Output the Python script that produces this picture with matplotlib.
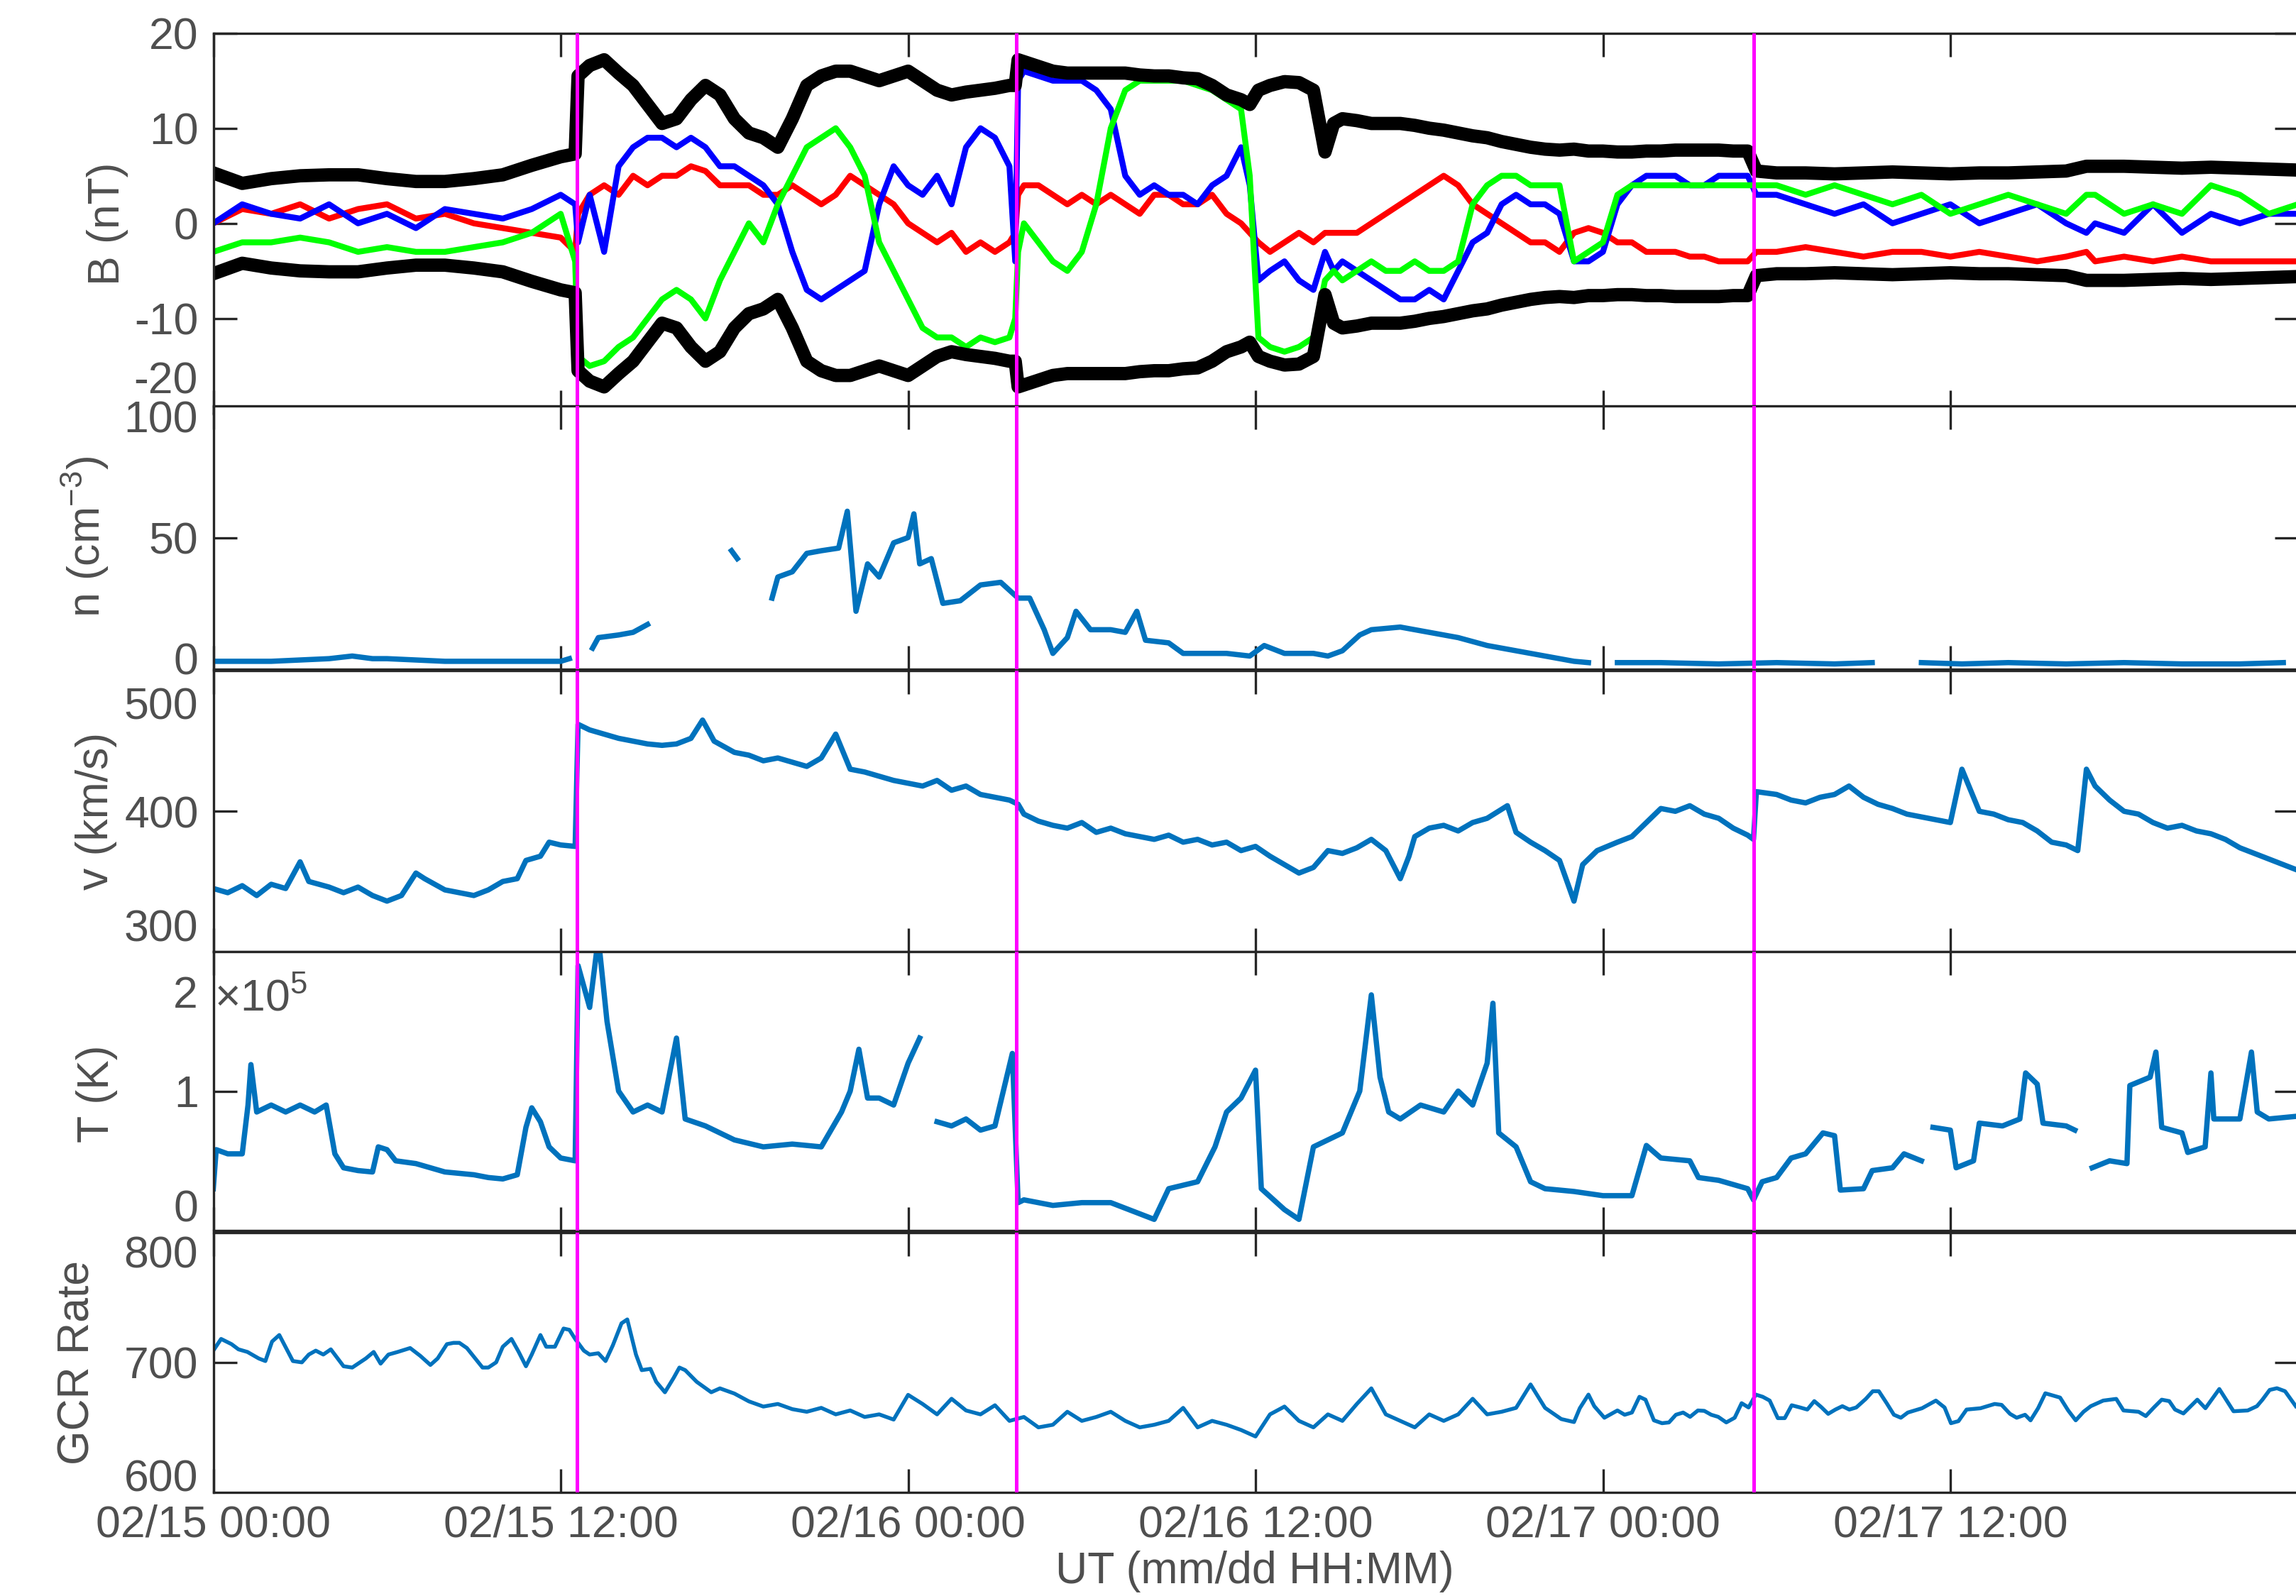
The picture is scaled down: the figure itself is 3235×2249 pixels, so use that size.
import numpy as np
import matplotlib.pyplot as plt

plt.rcParams['font.family'] = ['Liberation Sans', 'DejaVu Sans']
plt.rcParams['mathtext.fontset'] = 'custom'
plt.rcParams['mathtext.rm'] = 'Liberation Sans'
plt.rcParams['mathtext.it'] = 'Liberation Sans:italic'
plt.rcParams['axes.unicode_minus'] = False

nan = np.nan

# ---- data (hours after 02/15 00:00 UT) ----
b_t = [0, 1, 2, 3, 4, 5, 6, 7, 8, 9, 10, 11, 12, 12.5,
       12.6, 13, 13.5, 14, 14.5, 15, 15.5, 16, 16.5, 17, 17.5, 18, 18.5, 19, 19.5, 20, 20.5, 21, 21.5,
       22, 22.5, 23, 23.5, 24, 24.5, 25, 25.5, 26, 26.5, 27, 27.5, 27.7,
       27.8, 28, 28.5, 29, 29.5, 30, 30.5, 31, 31.5, 32, 32.5, 33, 33.5, 34, 34.5, 35, 35.5, 35.8,
       36.1, 36.5, 37, 37.5, 38, 38.4, 38.7, 39, 39.5, 40, 40.5, 41, 41.5, 42, 42.5, 43, 43.5, 44, 44.5,
       45, 45.5, 46, 46.5, 47, 47.5, 48, 48.5, 49, 49.5, 50, 50.5, 51, 51.5, 52, 52.5, 53,
       53.3, 54, 55, 56, 57, 58, 59, 60, 61, 62, 63, 64, 64.7, 65, 66, 67, 68, 69, 70, 71, 72]
b_mag = [5.3, 4.2, 4.7, 5.0, 5.1, 5.1, 4.7, 4.4, 4.4, 4.7, 5.1, 6.1, 7.0, 7.3,
         15.5, 16.6, 17.2, 15.8, 14.5, 12.5, 10.5, 11, 13, 14.5, 13.5, 11, 9.5, 9, 8, 11, 14.5, 15.5, 16,
         16, 15.5, 15, 15.5, 16, 15, 14, 13.5, 13.8, 14, 14.2, 14.5, 14.5,
         17.2, 17, 16.5, 16, 15.8, 15.8, 15.8, 15.8, 15.8, 15.6, 15.5, 15.5, 15.3, 15.2, 14.5, 13.5, 13, 12.5,
         14, 14.5, 14.9, 14.8, 14, 7.5, 10.5, 11, 10.8, 10.5, 10.5, 10.5, 10.3, 10, 9.8, 9.5, 9.2, 9, 8.6,
         8.3, 8, 7.8, 7.7, 7.8, 7.6, 7.6, 7.5, 7.5, 7.6, 7.6, 7.7, 7.7, 7.7, 7.7, 7.6, 7.6,
         5.5, 5.3, 5.3, 5.2, 5.3, 5.4, 5.3, 5.2, 5.3, 5.3, 5.4, 5.5, 6.0, 6.0, 6.0, 5.9, 5.8, 5.9, 5.8, 5.7, 5.6]
b_x = [0, 1.5, 1, 2, 0.5, 1.5, 2, 0.5, 1, 0, -0.5, -1, -1.5, -3,
       1, 3, 4, 3, 5, 4, 5, 5, 6, 5.5, 4, 4, 4, 3, 3, 4, 3, 2, 3,
       5, 4, 3, 2, 0, -1, -2, -1, -3, -2, -3, -2, -1,
       3, 4, 4, 3, 2, 3, 2, 3, 2, 1, 3, 3, 2, 2, 3, 1, 0, -1,
       -2, -3, -2, -1, -2, -1, -1, -1, -1, 0, 1, 2, 3, 4, 5, 4, 2, 1, 0,
       -1, -2, -2, -3, -1, -0.5, -1, -2, -2, -3, -3, -3, -3.5, -3.5, -4, -4, -4,
       -3, -3, -2.5, -3, -3.5, -3, -3, -3.5, -3, -3.5, -4, -3.5, -3, -4, -3.5, -4, -3.5, -4, -4, -4, -4]
b_y = [0, 2, 1, 0.5, 2, 0, 1, -0.5, 1.5, 1, 0.5, 1.5, 3, 2,
       -2, 3, -3, 6, 8, 9, 9, 8, 9, 8, 6, 6, 5, 4, 2, -3, -7, -8, -7,
       -6, -5, 2, 6, 4, 3, 5, 2, 8, 10, 9, 6, -4,
       15, 16, 15.5, 15, 15, 15, 14, 12, 5, 3, 4, 3, 3, 2, 4, 5, 8, 4,
       -6, -5, -4, -6, -7, -3, -5, -4, -5, -6, -7, -8, -8, -7, -8, -5, -2, -1, 2,
       3, 2, 2, 1, -4, -4, -3, 2, 4, 5, 5, 5, 4, 4, 5, 5, 5,
       3, 3, 2, 1, 2, 0, 1, 2, 0, 1, 2, 0, -1, 0, -1, 2, -1, 1, 0, 1, 1]
b_z = [-3, -2, -2, -1.5, -2, -3, -2.5, -3, -3, -2.5, -2, -1, 1, -4,
       -14, -15, -14.5, -13, -12, -10, -8, -7, -8, -10, -6, -3, 0, -2, 2, 5, 8, 9, 10,
       8, 5, -2, -5, -8, -11, -12, -12, -13, -12, -12.5, -12, -10,
       -3, 0, -2, -4, -5, -3, 2, 10, 14, 15, 15, 15, 15, 14.5, 14, 13, 12, 5,
       -12, -13, -13.5, -13, -12, -6, -5, -6, -5, -4, -5, -5, -4, -5, -5, -4, 2, 4, 5,
       5, 4, 4, 4, -4, -3, -2, 3, 4, 4, 4, 4, 4, 4, 4, 4, 4,
       4, 4, 3, 4, 3, 2, 3, 1, 2, 3, 2, 1, 3, 3, 1, 2, 1, 4, 3, 1, 2]

n_t = [0, 1, 2, 3, 4, 4.8, 5.5, 6, 7, 8, 9, 10, 11, 12, 12.3, 12.5, 13.1, 13.3, 14, 14.5, 15, 15.5,
       17.9, 18.1, 18.5, 19.3, 19.5, 20, 20.5, 21, 21.6, 21.9, 22.2, 22.6, 23, 23.5, 24, 24.2, 24.4, 24.8,
       25.2, 25.8, 26.5, 27.2, 27.8, 28.2, 28.7, 29, 29.5, 29.8, 30.3, 31, 31.5, 31.9, 32.2, 33, 33.5, 34,
       35, 35.8, 36.3, 37, 38, 38.5, 39, 39.6, 40, 41, 42, 43, 44, 45, 46, 47, 47.5, 48, 48.5, 50, 52, 54,
       56, 57.3, 57.5, 58.6, 59, 60.4, 62, 64, 66, 68, 70, 71.5]
n_val = [3, 3, 3, 3.5, 4, 5, 4, 4, 3.5, 3, 3, 3, 3, 3, 4, nan, 8, 12, 13, 14, 17, nan,
         45, 42, nan, 27, 35, 37, 44, 45, 46, 60, 22, 40, 35, 48, 50, 59, 40, 42,
         25, 26, 32, 33, 27, 27, 15, 6, 12, 22, 15, 15, 14, 22, 11, 10, 6, 6,
         6, 5, 9, 6, 6, 5, 7, 13, 15, 16, 14, 12, 9, 7, 5, 3, 2.5, nan, 2.5, 2.5, 2, 2.5,
         2, 2.5, nan, nan, 2.5, 2, 2.5, 2, 2.5, 2, 2, 2.5]

v_t = [0, 0.5, 1, 1.5, 2, 2.5, 3, 3.3, 4, 4.5, 5, 5.5, 6, 6.5, 7, 7.3, 8, 8.5, 9, 9.5, 10, 10.5, 10.8,
       11.3, 11.6, 12, 12.5, 12.6, 13, 13.5, 14, 14.5, 15, 15.5, 16, 16.5, 16.9, 17.3, 18, 18.5, 19, 19.5,
       20, 20.5, 21, 21.5, 22, 22.5, 23, 23.5, 24, 24.5, 25, 25.5, 26, 26.5, 27, 27.5, 27.8, 28, 28.5, 29,
       29.5, 30, 30.5, 31, 31.5, 32, 32.5, 33, 33.5, 34, 34.5, 35, 35.5, 36, 36.5, 37, 37.5, 38, 38.5, 39,
       39.5, 40, 40.5, 41, 41.3, 41.5, 42, 42.5, 43, 43.5, 44, 44.7, 45, 45.5, 46, 46.5, 47, 47.3, 47.8,
       48.5, 49, 49.5, 50, 50.5, 51, 51.5, 52, 52.5, 53, 53.2, 53.3, 54, 54.5, 55, 55.5, 56, 56.5, 57,
       57.5, 58, 58.5, 59, 59.5, 60, 60.4, 60.8, 61, 61.5, 62, 62.5, 63, 63.5, 64, 64.4, 64.7, 65, 65.5,
       66, 66.5, 67, 67.5, 68, 68.5, 69, 69.5, 70, 70.5, 71, 71.5, 72]
v_val = [345, 342, 347, 340, 348, 345, 364, 350, 346, 342, 346, 340, 336, 340, 356, 352, 344, 342, 340,
         344, 350, 352, 365, 368, 378, 376, 375, 462, 458, 455, 452, 450, 448, 447, 448, 452, 465, 450,
         442, 440, 436, 438, 435, 432, 438, 455, 430, 428, 425, 422, 420, 418, 422, 415, 418, 412, 410,
         408, 405, 398, 393, 390, 388, 392, 385, 388, 384, 382, 380, 383, 378, 380, 376, 378, 372, 375,
         368, 362, 356, 360, 372, 370, 374, 380, 372, 352, 368, 382, 388, 390, 386, 392, 395, 404, 385,
         378, 372, 365, 336, 362, 372, 378, 382, 392, 402, 400, 404, 398, 395, 388, 383, 380, 414, 412,
         408, 406, 410, 412, 418, 410, 405, 402, 398, 396, 394, 392, 430, 410, 400, 398, 394, 392, 386,
         378, 376, 372, 430, 418, 408, 400, 398, 392, 388, 390, 386, 384, 380, 374, 370, 366, 362, 358]

temp_t = [0, 0.1, 0.5, 1.0, 1.2, 1.3, 1.5, 2, 2.5, 3, 3.5, 3.9, 4.2, 4.5, 5, 5.5, 5.7, 6, 6.3, 7, 8, 9,
          9.5, 10, 10.5, 10.8, 11, 11.3, 11.6, 12, 12.5, 12.6, 13, 13.3, 13.6, 14, 14.5, 15, 15.5, 16, 16.3,
          17, 17.5, 18, 19, 20, 21, 21.7, 22, 22.3, 22.6, 23, 23.5, 24, 24.4, 24.6, 25, 25.5, 26, 26.5, 27,
          27.6, 27.8, 28, 29, 30, 31, 32, 32.5, 33, 34, 34.6, 35, 35.5, 36, 36.2, 37, 37.5, 38, 38.5, 39,
          39.6, 40, 40.3, 40.6, 41, 41.7, 42.5, 43, 43.5, 44, 44.2, 44.4, 45, 45.5, 46, 47, 48, 49, 49.5,
          50, 51, 51.3, 52, 53, 53.2, 53.5, 54, 54.5, 55, 55.6, 56, 56.2, 57, 57.3, 58, 58.4, 59, 59.2,
          59.4, 60, 60.2, 60.8, 61, 61.8, 62.4, 62.6, 63, 63.2, 64, 64.3, 64.6, 64.9, 65.5, 66.1, 66.2,
          66.9, 67.1, 67.3, 68, 68.2, 68.8, 69, 69.1, 70, 70.4, 70.6, 71, 72]
temp_val = [0.3, 0.58, 0.55, 0.55, 0.9, 1.19, 0.85, 0.9, 0.85, 0.9, 0.85, 0.9, 0.55, 0.45, 0.43, 0.42,
            0.6, 0.58, 0.5, 0.48, 0.42, 0.4, 0.38, 0.37, 0.4, 0.74, 0.88, 0.78, 0.6, 0.52, 0.5, 1.9, 1.6,
            2.1, 1.5, 1.0, 0.85, 0.9, 0.85, 1.38, 0.8, 0.75, 0.7, 0.65, 0.6, 0.62, 0.6, 0.85, 1.0, 1.3,
            0.95, 0.95, 0.9, 1.2, 1.38, nan, 0.78, 0.75, 0.8, 0.72, 0.75, 1.27, 0.2, 0.22, 0.18, 0.2,
            0.2, 0.12, 0.08, 0.3, 0.35, 0.6, 0.85, 0.95, 1.15, 0.3, 0.15, 0.08, 0.6, 0.65, 0.7, 1.0,
            1.69, 1.1, 0.85, 0.8, 0.9, 0.85, 1.0, 0.9, 1.2, 1.63, 0.7, 0.6, 0.35, 0.3, 0.28, 0.25, 0.25,
            0.61, 0.52, 0.5, 0.38, 0.36, 0.3, 0.22, 0.35, 0.38, 0.52, 0.55, 0.7, 0.68, 0.29, 0.3, 0.43,
            0.45, 0.55, 0.5, nan, 0.74, 0.72, 0.45, 0.5, 0.77, 0.75, 0.8, 1.13, 1.05, 0.77, 0.75, 0.72,
            nan, 0.45, 0.5, 0.48, 1.04, 1.1, 1.28, 0.74, 0.7, 0.56, 0.6, 1.13, 0.8, 0.8, 1.28, 0.85, 0.8,
            0.82]

gcr_t = [0, 0.27, 0.63, 0.87, 1.18, 1.57, 1.8, 2.03, 2.28, 2.75, 3.06, 3.3, 3.54, 3.8, 4.06, 4.5, 4.8,
         5.27, 5.54, 5.78, 6.05, 6.37, 6.8, 7.15, 7.5, 7.75, 8.07, 8.3, 8.5, 8.76, 9.3, 9.5, 9.77, 10.0,
         10.3, 10.55, 10.8, 11.0, 11.3, 11.5, 11.8, 12.1, 12.3, 12.5, 12.8, 13.0, 13.3, 13.55, 13.8, 14.1,
         14.3, 14.6, 14.8, 15.1, 15.3, 15.6, 15.9, 16.1, 16.3, 16.7, 17.2, 17.5, 18, 18.5, 19, 19.5, 20,
         20.5, 21, 21.5, 22, 22.5, 23, 23.5, 24, 24.5, 25, 25.5, 26, 26.5, 27, 27.5, 28, 28.5, 29, 29.5,
         30, 30.5, 31, 31.5, 32, 32.5, 33, 33.5, 34, 34.5, 35, 35.5, 36, 36.5, 37, 37.5, 38, 38.5, 39,
         39.5, 40, 40.5, 41, 41.5, 42, 42.5, 43, 43.5, 44, 44.5, 45, 45.5, 46, 46.56, 47.0, 47.2, 47.5,
         47.7, 48.05, 48.5, 48.75, 49.0, 49.26, 49.47, 49.76, 50.04, 50.28, 50.52, 50.77, 51.01, 51.28,
         51.5, 51.74, 51.98, 52.26, 52.55, 52.79, 53.03, 53.28, 53.52, 53.76, 54.04, 54.28, 54.52, 54.81,
         55.06, 55.3, 55.54, 55.78, 56.03, 56.27, 56.51, 56.75, 57.08, 57.32, 57.53, 57.8, 58.05, 58.29,
         58.53, 59.02, 59.5, 59.8, 60.02, 60.28, 60.56, 61.04, 61.53, 61.77, 62.06, 62.29, 62.58, 62.77,
         63.03, 63.28, 63.79, 64.07, 64.33, 64.6, 64.85, 65.28, 65.73, 65.98, 66.5, 66.75, 67.03, 67.3,
         67.56, 67.76, 68.05, 68.53, 68.81, 69.29, 69.78, 70.27, 70.59, 70.78, 71.03, 71.28, 71.56, 71.93]
gcr_val = [709, 718, 714, 710, 708, 703, 701, 716, 721, 701, 700, 706, 709, 706, 710, 697, 696, 703, 708,
           699, 706, 708, 711, 705, 698, 703, 714, 715, 715, 711, 696, 696, 700, 712, 718, 708, 697, 706,
           721, 712, 712, 726, 725, 718, 709, 706, 707, 701, 713, 730, 733, 706, 694, 695, 685, 677, 688,
           696, 694, 685, 677, 680, 676, 670, 666, 668, 664, 662, 665, 660, 663, 658, 660, 656, 675, 668,
           660, 672, 663, 660, 667, 655, 658, 650, 652, 662, 655, 658, 662, 655, 650, 652, 655, 665, 650,
           655, 652, 648, 643, 660, 666, 655, 650, 660, 655, 668, 680, 660, 655, 650, 660, 655, 660, 672,
           660, 662, 665, 683, 665, 656.4, 654.1, 664.7, 675.2, 666.3, 657.4, 663, 659.7, 661.4, 673.5,
           671.3, 655.4, 653.2, 653.8, 659.7, 661.4, 658.1, 663, 662.7, 659.7, 658.1, 653.8, 657.4, 668.6,
           665.3, 675.2, 673.5, 670.6, 657.1, 657.1, 667.0, 665.3, 663.7, 670.2, 665.6, 660.4, 663.7,
           666.3, 663.7, 665.3, 671.9, 677.8, 677.8, 668.6, 659.7, 657.4, 661.4, 664.7, 670.6, 665.3,
           653.2, 654.8, 663.7, 664.7, 668, 667.3, 660.4, 657.4, 659.7, 655.4, 664.7, 676.2, 672.9, 663,
           655.4, 662, 666.3, 670.6, 671.9, 663, 662, 658.7, 665.3, 671.3, 670.2, 663.7, 660.7, 671.3,
           664.7, 679.5, 662.4, 663, 666.3, 671.3, 678.8, 680.1, 677.8, 666.3]

shocks = [12.56, 27.75, 53.2]
tick_hours = [0, 12, 24, 36, 48, 60, 72]
tick_names = ['02/15 00:00', '02/15 12:00', '02/16 00:00', '02/16 12:00',
              '02/17 00:00', '02/17 12:00', '']

# ---- layout in pixels of the 3235 x 2249 canvas ----
W, H, DPI = 3235, 2249, 300
X0, X1 = 300.5, 3237.5
AXC = '#262626'
TXT = '#4f4f4f'
FS = 15
MBLUE = '#0072BD'

fig = plt.figure(figsize=(W / DPI, H / DPI), dpi=DPI)


def panel(top, bottom, ylim, yticks, ylabels):
    ax = fig.add_axes([X0 / W, 1 - bottom / H, (X1 - X0) / W, (bottom - top) / H])
    ax.set_xlim(0, 72)
    ax.set_ylim(*ylim)
    ax.set_xticks(tick_hours)
    ax.set_xticklabels([])
    ax.set_yticks(yticks)
    ax.set_yticklabels(ylabels)
    ax.tick_params(direction='in', top=True, right=True, length=8, width=0.8,
                   color=AXC, labelcolor=TXT, labelsize=FS, pad=5)
    for s in ax.spines.values():
        s.set_color(AXC)
        s.set_linewidth(0.8)
    for t in shocks:
        ax.axvline(t, color='#ff00ff', lw=1.2, zorder=5)
    return ax


def edge_label(text, ypx):
    # tick labels that sit away from their tick, as in the original figure
    fig.text((X0 - 21.5) / W, 1 - ypx / H, text, ha='right', va='center',
             fontsize=FS, color=TXT)


def ylab(text, xpx, ypx):
    fig.text(xpx / W, 1 - ypx / H, text, rotation=90, ha='center', va='center',
             fontsize=FS, color=TXT)


# B panel
ax1 = panel(46.7, 582.7, (-20, 20), [-10, 0, 10, 20], ['-10', '0', '10', '20'])
ax1.plot(b_t, b_x, color='#ff0000', lw=2.0)
ax1.plot(b_t, b_y, color='#0000ff', lw=2.0)
ax1.plot(b_t, b_z, color='#00ff00', lw=2.0)
ax1.plot(b_t, b_mag, color='black', lw=4.5)
ax1.plot(b_t, -np.array(b_mag), color='black', lw=4.5)
edge_label('-20', 538)
ylab('B (nT)', 151.5, 315)

# n panel
ax2 = panel(572, 943, (0, 100), [50], ['50'])
ax2.plot(n_t, n_val, color=MBLUE, lw=1.8)
edge_label('100', 593)
edge_label('0', 934)
ylab('n (cm$^{-3}$)', 120, 756)

# v panel
ax3 = panel(945.5, 1341, (300, 500), [400], ['400'])
ax3.plot(v_t, v_val, color=MBLUE, lw=1.8)
edge_label('500', 997)
edge_label('300', 1310)
ylab('v (km/s)', 135.5, 1143)

# T panel
ax4 = panel(1341, 1734, (0, 2e5), [1e5], ['1'])
ax4.plot(temp_t, np.array(temp_val) * 1e5, color=MBLUE, lw=1.8)
edge_label('2', 1403)
edge_label('0', 1705)
fig.text(302 / W, 1 - 1424 / H, r'$\times$10$^{5}$', ha='left', va='baseline',
         fontsize=FS, color=TXT)
ylab('T (K)', 136, 1541)

# GCR panel
ax5 = panel(1736.5, 2103, (600, 800), [700], ['700'])
ax5.plot(gcr_t, gcr_val, color=MBLUE, lw=1.3)
edge_label('800', 1770)
edge_label('600', 2085)
ylab('GCR Rate', 109, 1920)
ax5.set_xticklabels(tick_names)
ax5.tick_params(axis='x', pad=4)
fig.text(1768 / W, 1 - 2215 / H, 'UT (mm/dd HH:MM)', ha='center', va='center',
         fontsize=FS, color=TXT)

fig.savefig('out.png', dpi=DPI)
